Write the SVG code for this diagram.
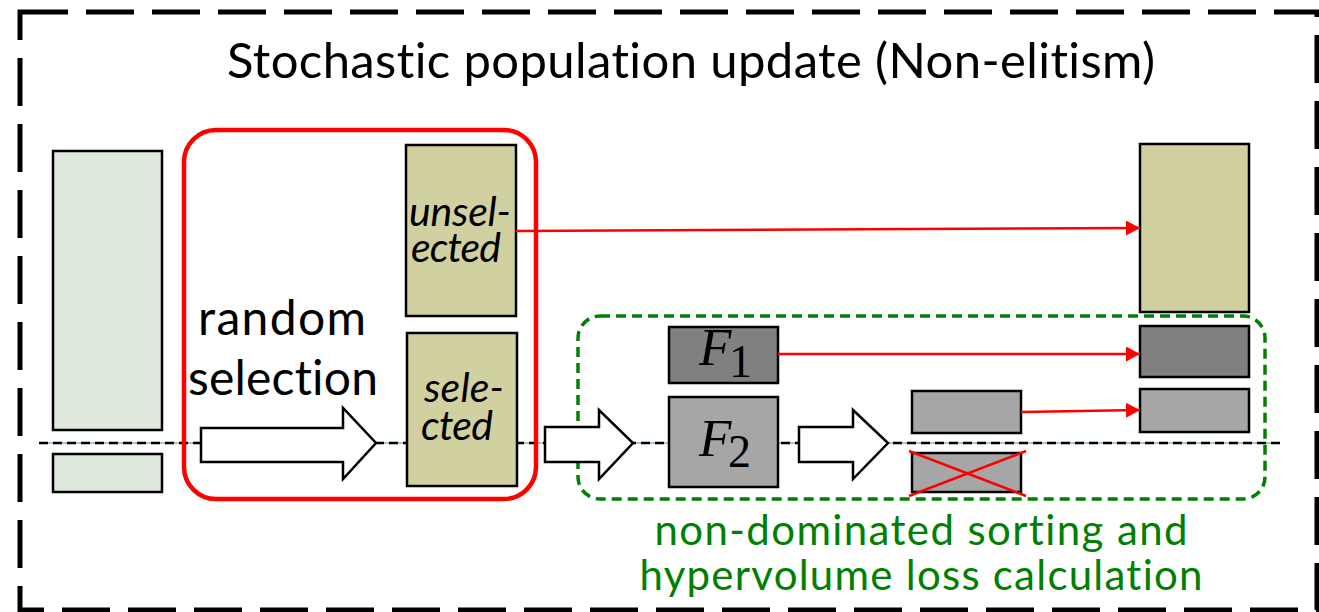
<svg xmlns="http://www.w3.org/2000/svg" width="1319" height="612" viewBox="0 0 1319 612">
<style>
text{font-variant-ligatures:none}
.box{stroke:#000;stroke-width:2.5}
.pop{fill:#dfe8dd}
.kh{fill:#d1d0a0}
.dk{fill:#808080}
.lt{fill:#a6a6a6}
.lbl{font-family:Lato,"Open Sans",sans-serif;fill:#000}
.it{font-family:Lato,"Open Sans",sans-serif;font-style:italic;font-size:41px;fill:#000}
.math{font-family:"Liberation Serif","DejaVu Serif",serif;font-style:italic;font-size:53px;fill:#000}
.sub{font-style:normal;font-size:46px}
.hollow{fill:#fff;stroke:#000;stroke-width:2.5}
.red{stroke:#ff0000;stroke-width:2.5;fill:none}
.grn{font-family:Lato,"Open Sans",sans-serif;font-size:42px;fill:#008000}
</style>
<defs>
<marker id="ah" viewBox="0 0 14 15" refX="14" refY="7.5" markerWidth="14" markerHeight="15" markerUnits="userSpaceOnUse" orient="auto">
<path d="M0,0 L14,7.5 L0,15 Z" fill="#ff0000"/>
</marker>
</defs>
<rect width="1319" height="612" fill="#fff"/>
<rect x="20" y="12" width="1297" height="598" fill="none" stroke="#000" stroke-width="5" stroke-dasharray="48 18"/>
<text class="lbl" x="691" y="78" font-size="49" text-anchor="middle" textLength="928">Stochastic population update (Non-elitism)</text>

<g id="baseline-line">
<line x1="39" y1="443" x2="1280" y2="443" stroke="#9fd39f" stroke-width="2"/>
<line x1="39" y1="443" x2="1280" y2="443" stroke="#000" stroke-width="2.4" stroke-dasharray="9 5"/>
</g>

<g id="population">
<rect class="box pop" x="53" y="151" width="109" height="279"/>
<rect class="box pop" x="53" y="454" width="109" height="38"/>
</g>

<g id="random-selection-group">
<rect x="184" y="130" width="352" height="369" rx="32" fill="none" stroke="#ff0000" stroke-width="4.5"/>
<text class="lbl" font-size="48" text-anchor="middle"><tspan x="282" y="335" textLength="168">random</tspan><tspan x="283" y="395" textLength="190">selection</tspan></text>
</g>

<g id="unselected">
<rect class="box kh" x="406" y="145" width="110" height="171"/>
<text class="it" text-anchor="middle"><tspan x="460" y="226" textLength="102">unsel-</tspan><tspan x="456" y="262" textLength="90">ected</tspan></text>
</g>

<g id="selected">
<rect class="box kh" x="407" y="333" width="110" height="153"/>
<text class="it" text-anchor="middle"><tspan x="464" y="402" textLength="80">sele-</tspan><tspan x="457" y="440" textLength="72">cted</tspan></text>
</g>

<g id="nds-group">
<rect x="578" y="316" width="687" height="183" rx="22" fill="none" stroke="#008000" stroke-width="3.5" stroke-dasharray="10 6"/>
<text class="grn" text-anchor="middle"><tspan x="921" y="545" textLength="533">non-dominated sorting and</tspan><tspan x="921" y="590" textLength="563">hypervolume loss calculation</tspan></text>
</g>

<g id="F1">
<rect class="box dk" x="669" y="327" width="109" height="56"/>
<text class="math" x="699" y="365">F<tspan class="sub" x="729" y="377">1</tspan></text>
</g>

<g id="F2">
<rect class="box lt" x="669" y="397" width="109" height="90"/>
<text class="math" x="699" y="456">F<tspan class="sub" x="728" y="467">2</tspan></text>
</g>

<g id="kept-front">
<rect class="box lt" x="912" y="391" width="109" height="42"/>
</g>

<g id="discarded-front">
<rect class="box lt" x="912" y="453" width="109" height="39"/>
<line class="red" x1="909" y1="451" x2="1026" y2="496" stroke-width="3"/>
<line class="red" x1="909" y1="496" x2="1026" y2="451" stroke-width="3"/>
</g>

<g id="next-unselected">
<rect class="box kh" x="1140" y="144" width="109" height="168"/>
</g>
<g id="next-F1">
<rect class="box dk" x="1140" y="326" width="109" height="51"/>
</g>
<g id="next-F2">
<rect class="box lt" x="1140" y="389" width="109" height="43"/>
</g>

<g id="connectors">
<path class="hollow" d="M201,428 H343 V408 L376,443 L343,479 V462 H201 Z"/>
<path class="hollow" d="M545,427 H599 V410 L633,443 L599,479 V462 H545 Z"/>
<path class="hollow" d="M799,427 H853 V410 L888,443 L853,479 V462 H799 Z"/>
<line class="red" x1="516" y1="231" x2="1140" y2="228" marker-end="url(#ah)"/>
<line class="red" x1="778" y1="354" x2="1140" y2="354" marker-end="url(#ah)"/>
<line class="red" x1="1021" y1="412" x2="1140" y2="410" marker-end="url(#ah)"/>
</g>
</svg>
